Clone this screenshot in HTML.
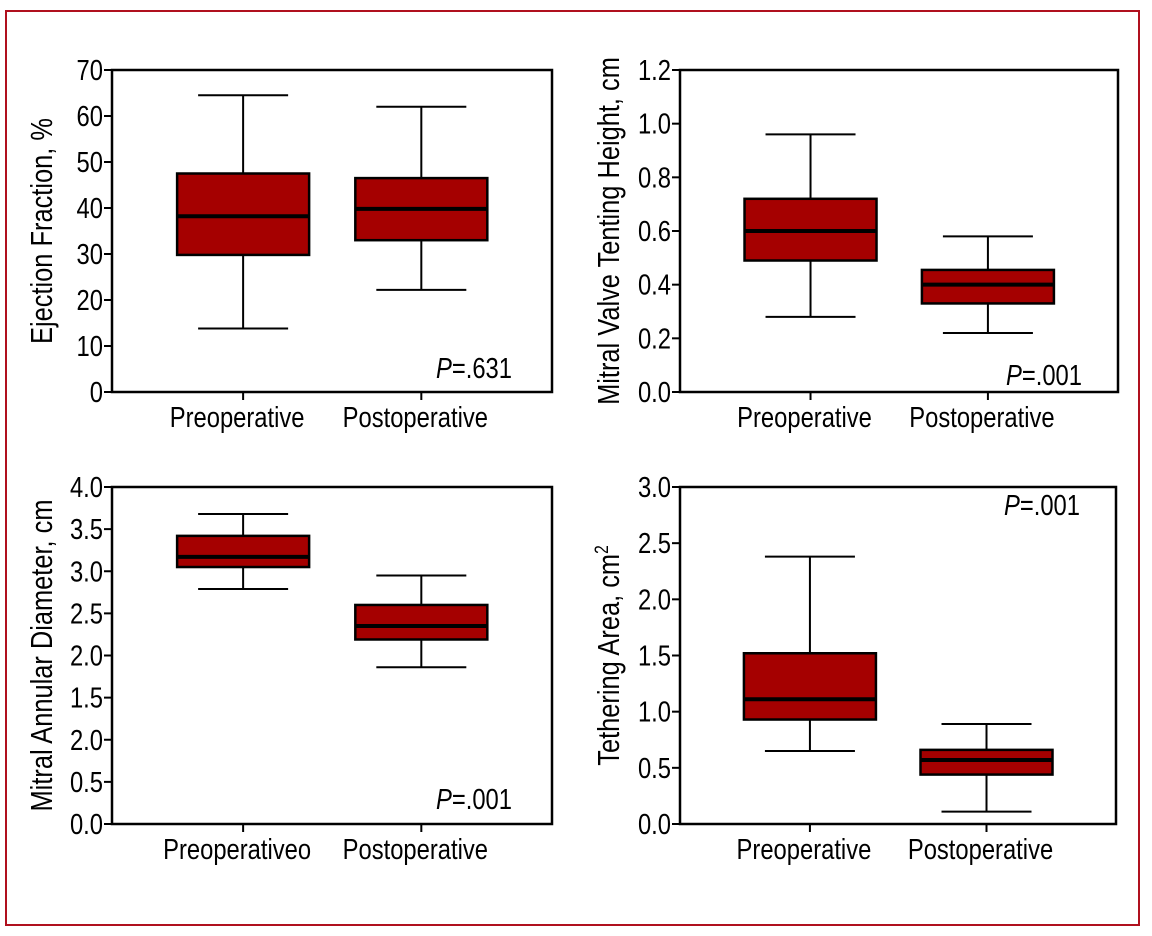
<!DOCTYPE html>
<html><head><meta charset="utf-8"><style>
html,body{margin:0;padding:0;background:#fff;}
svg{display:block;font-family:"Liberation Sans",sans-serif;}
</style></head><body>
<svg id="chart" width="1152" height="936" viewBox="0 0 1152 936">
<rect x="6" y="11" width="1133" height="914" fill="none" stroke="#b0101e" stroke-width="2"/>
</svg>
<script>
const categories = ["Preoperative","Postoperative"];
const categoriesC = ["Preoperativeo","Postoperative"];
// [whiskerHigh, q3, median, q1, whiskerLow]
const efPre = [64.5, 47.5, 38.2, 29.8, 13.8];
const efPost = [62, 46.5, 39.8, 33, 22.2];
const efTicks = ["0","10","20","30","40","50","60","70"];
const tentPre = [0.96, 0.72, 0.60, 0.49, 0.28];
const tentPost = [0.58, 0.455, 0.40, 0.33, 0.22];
const tentTicks = ["0.0","0.2","0.4","0.6","0.8","1.0","1.2"];
const annPre = [3.68, 3.42, 3.17, 3.05, 2.79];
const annPost = [2.95, 2.60, 2.35, 2.19, 1.86];
const annTicks = ["0.0","0.5","2.0","1.5","2.0","2.5","3.0","3.5","4.0"];
const tethPre = [2.38, 1.52, 1.11, 0.93, 0.65];
const tethPost = [0.89, 0.66, 0.57, 0.44, 0.11];
const tethTicks = ["0.0","0.5","1.0","1.5","2.0","2.5","3.0"];

const NS="http://www.w3.org/2000/svg";
const svg=document.getElementById('chart');
const SX=0.82;
function mk(tag,attrs,parent){const e=document.createElementNS(NS,tag);for(const k in attrs)e.setAttribute(k,attrs[k]);(parent||svg).appendChild(e);return e;}
function txt(parent,x,y,anchor,size,rot){
  return mk('text',{x:0,y:0,'text-anchor':anchor,'font-size':size,transform:`translate(${x},${y})${rot?' rotate(-90)':''} scale(${SX},1)`},parent);
}

function panel(o){
  const g=mk('g',{});
  
  
  const yScale=v=>o.y1-(v-o.min)/(o.max-o.min)*(o.y1-o.y0);
  const step=(o.max-o.min)/(o.ticks.length-1);
  const xc=[o.x0+(o.x1-o.x0)*0.298, o.x0+(o.x1-o.x0)*0.703];
  const frame=mk('rect',{x:o.x0,y:o.y0,width:o.x1-o.x0,height:o.y1-o.y0,fill:'none',stroke:'#000','stroke-width':2.5},g);
  
  
  o.ticks.forEach((t,i)=>{
    const y=yScale(o.min+i*step);
    mk('line',{x1:o.x0-8,x2:o.x0,y1:y,y2:y,stroke:'#000','stroke-width':2},g);
    const tx=txt(g,o.x0-9,y+10,'end',29);
    
    
    tx.textContent=t;
  });
  const yl=txt(g,o.ylx,(o.y0+o.y1)/2,'middle',31,true);
  
  
  yl.innerHTML=o.ylabel;
  [o.pre,o.post].forEach((d,i)=>{
    const x=xc[i];
    mk('line',{x1:x,x2:x,y1:o.y1,y2:o.y1+8,stroke:'#000','stroke-width':2},g);
    const cl=txt(g,x-6,o.y1+35,'middle',29);
    
    
    cl.textContent=o.cats[i];
    const bg=mk('g',{},g);
    
    
    const hw=66, cw=45;
    mk('line',{x1:x,x2:x,y1:yScale(d[0]),y2:yScale(d[4]),stroke:'#000','stroke-width':2},bg);
    mk('line',{x1:x-cw,x2:x+cw,y1:yScale(d[0]),y2:yScale(d[0]),stroke:'#000','stroke-width':2},bg);
    mk('line',{x1:x-cw,x2:x+cw,y1:yScale(d[4]),y2:yScale(d[4]),stroke:'#000','stroke-width':2},bg);
    mk('rect',{x:x-hw,y:yScale(d[1]),width:2*hw,height:yScale(d[3])-yScale(d[1]),fill:'#a50000',stroke:'#000','stroke-width':2.5},bg);
    mk('line',{x1:x-hw,x2:x+hw,y1:yScale(d[2]),y2:yScale(d[2]),stroke:'#000','stroke-width':4},bg);
  });
  const p=txt(g,o.px,o.py,'end',29);
  
  
  p.innerHTML='<tspan font-style="italic">P</tspan>=.'+o.p;
}
panel({name:'ejection-fraction-panel',x0:112,x1:552,y0:70,y1:392,min:0,max:70,ticks:efTicks,pre:efPre,post:efPost,cats:categories,ylabel:'Ejection Fraction, %',ylx:52,px:512,py:378,p:'631'});
panel({name:'tenting-height-panel',x0:680,x1:1118,y0:70,y1:392,min:0,max:1.2,ticks:tentTicks,pre:tentPre,post:tentPost,cats:categories,ylabel:'Mitral Valve Tenting Height, cm',ylx:619,px:1082,py:385,p:'001'});
panel({name:'annular-diameter-panel',x0:112,x1:552,y0:487,y1:824,min:0,max:4,ticks:annTicks,pre:annPre,post:annPost,cats:categoriesC,ylabel:'Mitral Annular Diameter, cm',ylx:52,px:512,py:809,p:'001'});
panel({name:'tethering-area-panel',x0:680,x1:1116,y0:487,y1:824,min:0,max:3,ticks:tethTicks,pre:tethPre,post:tethPost,cats:categories,ylabel:'Tethering Area, cm<tspan font-size="19" dy="-11">2</tspan>',ylx:619,px:1080,py:515,p:'001'});
</script>
</body></html>
